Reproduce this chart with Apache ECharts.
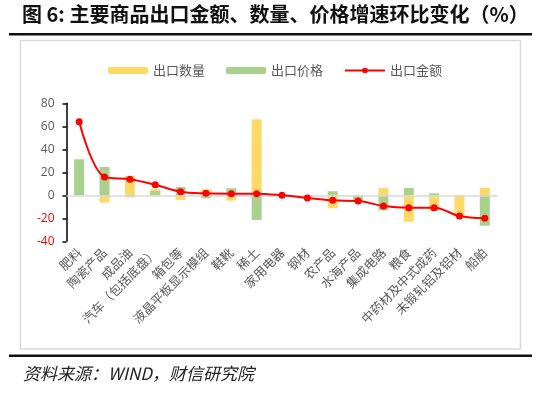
<!DOCTYPE html>
<html>
<head>
<meta charset="utf-8">
<script src="https://cdn.jsdelivr.net/npm/echarts@6/dist/echarts.min.js"></script>
<style>html,body{margin:0;padding:0;background:#fff;}#c{width:550px;height:394px;}</style>
</head>
<body>
<div id="c"></div>
<script>
var categories = ['肥料','陶瓷产品','成品油','汽车（包括底盘）','箱包等','液晶平板显示模组','鞋靴','稀土','家用电器','钢材','农产品','水海产品','集成电路','粮食','中药材及中式成药','未锻轧铝及铝材','船舶'];
var quantity = [0, -6.4, 16.8, 5.2, -4, 5.2, -4.6, 66, 0.5, 0, -11.3, 0, 6.3, -23, -13.7, -19, 6.6];
var price = [31.3, 24.6, -1.7, 3.7, 7.2, -2.6, 6.1, -21.5, -0.5, -1, 3.5, -5.5, -13, 6.3, 1.7, 0, -26.4];
var amount = [64, 16, 14, 9.2, 3.1, 1.7, 1.4, 1.4, 0, -2.3, -4.4, -5, -9.3, -10.8, -10.8, -18, -20];
var yTicks = {min: -40, max: 80, interval: 20};

var cjk = '"Noto Sans CJK SC", sans-serif';
var chart = echarts.init(document.getElementById('c'), null, {renderer: 'canvas'});
chart.setOption({
  animation: false,
  backgroundColor: '#fff',
  graphic: [
    {type: 'text', left: 22, top: 4, style: {text: '图 6: 主要商品出口金额、数量、价格增速环比变化（%）', font: 'bold 20px ' + cjk, fill: '#111'}},
    {type: 'rect', shape: {x: 9, y: 33, width: 523, height: 2.5}, style: {fill: '#111'}},
    {type: 'rect', shape: {x: 20.5, y: 40.5, width: 500, height: 308.5}, style: {fill: 'none', stroke: '#d9d9d9', lineWidth: 1.5}},
    {type: 'rect', shape: {x: 9, y: 354.5, width: 523, height: 2.5}, style: {fill: '#111'}},
    {type: 'text', left: 23, top: 365, style: {text: '资料来源：WIND，财信研究院', font: 'italic 17px ' + cjk, fill: '#222'}}
  ],
  legend: {
    top: 59, left: 'center',
    itemWidth: 40, itemHeight: 7, itemGap: 21,
    textStyle: {fontFamily: cjk, fontSize: 13, color: '#595959'},
    data: ['出口数量', '出口价格', '出口金额']
  },
  grid: {left: 66.5, right: 52.5, top: 103.3, bottom: 152.7},
  xAxis: {
    type: 'category', data: categories,
    axisLine: {show: false, onZero: false},
    axisTick: {show: false},
    axisLabel: {rotate: 45, interval: 0, margin: 9, fontFamily: cjk, fontSize: 12.5, color: '#595959'}
  },
  yAxis: {
    type: 'value', min: yTicks.min, max: yTicks.max, interval: yTicks.interval,
    axisLine: {show: true, lineStyle: {color: '#000', width: 1.5}},
    axisTick: {show: true, length: 4, lineStyle: {color: '#000', width: 1.5}},
    splitLine: {show: false},
    axisLabel: {margin: 12, fontFamily: '"Open Sans", sans-serif', fontSize: 12,
      color: function (v) { return Number(v) < 0 ? '#ff0000' : '#595959'; }}
  },
  series: [
    {name: '出口数量', type: 'bar', data: quantity, barWidth: 10, barGap: '-100%',
      itemStyle: {color: '#FFD966'},
      markLine: {silent: true, symbol: 'none', label: {show: false},
        lineStyle: {color: '#d9d9d9', width: 1.5, type: 'solid'}, data: [{yAxis: 0}]}},
    {name: '出口价格', type: 'bar', data: price, barWidth: 10, barGap: '-100%',
      itemStyle: {color: '#A9D18E'}},
    {name: '出口金额', type: 'line', data: amount, smooth: 0.35,
      symbol: 'circle', symbolSize: 7,
      lineStyle: {color: '#ff0000', width: 2}, itemStyle: {color: '#ff0000'}, z: 5}
  ]
});
</script>
</body>
</html>
